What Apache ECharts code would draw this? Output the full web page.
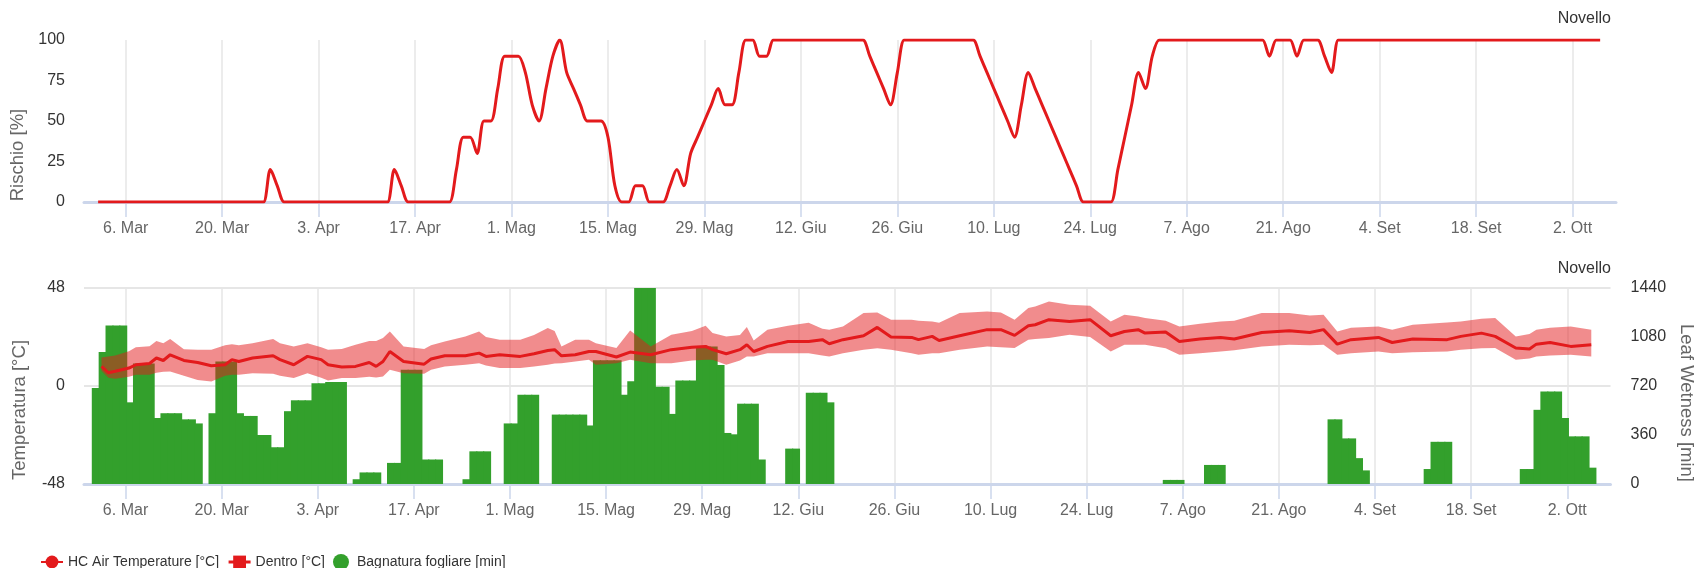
<!DOCTYPE html>
<html><head><meta charset="utf-8">
<script src="https://cdn.jsdelivr.net/npm/echarts@6/dist/echarts.min.js"></script>
<style>html,body{margin:0;padding:0;background:#fff}#c{width:1704px;height:568px}</style>
</head><body><div id="c"></div>
<script>
// ---------- DATA ----------
const firstDay = '2023-03-02';          // first daily sample
const refDay = '2023-03-06';            // reference for temperature day offsets

const tickDates = ['2023-03-06','2023-03-20','2023-04-03','2023-04-17','2023-05-01','2023-05-15','2023-05-29','2023-06-12',
  '2023-06-26','2023-07-10','2023-07-24','2023-08-07','2023-08-21','2023-09-04','2023-09-18','2023-10-02'];
const tickLabels = ['6. Mar','20. Mar','3. Apr','17. Apr','1. Mag','15. Mag','29. Mag','12. Giu',
  '26. Giu','10. Lug','24. Lug','7. Ago','21. Ago','4. Set','18. Set','2. Ott'];

// Rischio [%], one value per day from firstDay
const riskValues = [
  0,0,0,0,0,0,0,0,0,0, 0,0,0,0,0,0,0,0,0,0,
  0,0,0,0,0,20,10,0,0,0, 0,0,0,0,0,0,0,0,0,0,
  0,0,0,20,10,0,0,0,0,0, 0,0,20,40,40,30,50,50,70,90,
  90,90,80,60,50,70,90,100,80,70, 60,50,50,50,40,10,0,0,10,10,
  0,0,0,10,20,10,30,40,50,60, 70,60,60,80,100,100,90,90,100,100,
  100,100,100,100,100,100,100,100,100,100, 100,100,90,80,70,60,80,100,100,100,
  100,100,100,100,100,100,100,100,90,80, 70,60,50,40,60,80,70,60,50,40,
  30,20,10,0,0,0,0,0,20,40, 60,80,70,90,100,100,100,100,100,100,
  100,100,100,100,100,100,100,100,100,100, 90,100,100,100,90,100,100,100,90,80,
  100,100,100,100,100,100,100,100,100,100, 100,100,100,100,100,100,100,100,100,100,
  100,100,100,100,100,100,100,100,100,100, 100,100,100,100,100,100,100,100,100
];

// Bagnatura fogliare [min], one value per day from firstDay
const wetnessValues = [
  705,970,1165,1165,1165,600,885,885,885,485, 520,520,520,475,475,445,0,520,900,900,
  900,520,500,500,360,360,270,270,535,615, 615,615,740,740,750,750,750,0,35,85,
  85,85,0,155,155,840,840,840,180,180, 180,0,0,0,35,240,240,240,0,0,
  445,445,655,655,655,0,0,510,510,510, 510,510,430,910,910,910,910,655,755,1440,
  1440,1440,715,715,515,760,760,760,1010,1010, 1010,875,375,365,590,590,590,180,0,0,
  0,260,260,0,670,670,670,600,0,0, 0,0,0,0,0,0,0,0,0,0,
  0,0,0,0,0,0,0,0,0,0, 0,0,0,0,0,0,0,0,0,0,
  0,0,0,0,0,0,0,0,0,0, 0,0,0,0,0,0,30,30,30,0,
  0,0,140,140,140,0,0,0,0,0, 0,0,0,0,0,0,0,0,0,0,
  475,475,335,335,190,100,0,0,0,0, 0,0,0,0,110,310,310,310,0,0,
  0,0,0,0,0,0,0,0,110,110, 545,680,680,680,485,350,350,350,120
];

// Temperature samples: day offset from refDay, mean, band max, band min [°C]
const tempDayOffsets = [-4,-3,-2,0,1,3,4,5,6,8,10,12,14,15,16,18,21,22,24,26,28,29,31,33,35,36,37,38,40,43,44,46,49,51,52,54,57,59,61,62,63,65,67,68,71,73,76,79,82,84,85,87,89,90,91,93,96,99,101,102,104,107,109,111,114,115,117,118,121,125,127,129,131,132,134,137,140,143,145,147,148,151,153,156,159,161,165,169,172,174,176,178,182,184,187,192,194,197,199,202,204,205,207,210,213];
const tempMean = [9.6,6.5,7.2,8.8,10.4,11,13.7,12.5,15.3,12.5,11.5,9.9,10.4,12.9,12,13.7,14.8,12.9,10.4,14.5,12.9,10.4,9.3,9.6,11.5,9.6,12,16.9,12,10.7,13.2,14.8,14.8,16.1,14.5,15.3,14.5,15.8,17.4,17.8,14.8,15.3,16.9,16.9,14.2,16.6,15.3,17.8,19,19.4,17.8,15.8,17.8,20.2,16.9,19.4,21.8,21.8,22.7,20.7,22.7,24.6,28.7,24,23.8,22.7,24.3,22.3,24.6,27.6,27.6,24.8,29.5,30,32.5,31.6,32.5,24.6,26.7,27.6,25.9,26.5,21.8,23,23.8,23,26.2,27.1,26.2,27.6,20.5,22.7,23.8,21.3,23,22.7,24.3,25.9,24.3,18.6,18.1,20.5,21.3,19.4,20.2];
const tempMax = [14,14.5,15,17,19,19.5,22,21,23,18,17.8,17.8,20,20.5,20,21,23,21,19.4,21,19,17.8,18.1,20.2,22,22,23.5,26.7,19.4,18.1,20,21.8,24.3,26.7,24,22.7,22.7,25,28.4,27,19.4,22.7,22.7,21,18.6,27.2,19.4,25.1,27,29.5,25.9,24.3,25,28.9,22.3,27.6,29.5,31,28,27.6,29.2,35.7,36,32.5,32.5,32,31.6,31,35.7,36.5,36,32.5,38.2,39,41.4,39.8,39.3,31.6,34.9,34,33.3,32,29.2,30.5,31.6,32,35.7,35.7,34.5,34.9,26.7,28.5,29.2,27.6,30,31.1,31.6,33,33.3,24.3,25.5,27.6,28.5,29.2,27.6];
const tempMin = [7.5,4,3.5,4.5,5.5,5.5,6.5,7,7.1,5,3,2.2,5,5.5,5.5,6.3,6,5,3.9,6.3,4,2.7,3.9,3.9,4.5,4.2,4.7,8,6.3,6,8,9.6,10.4,11.2,10,8.8,8.8,9.5,10.4,11,11.2,12,12.9,10.4,11.2,12.9,11.2,11.2,12.5,12.9,12.9,10.4,12.5,14.5,14.5,16.1,16.1,16.1,15,14.5,16.1,17.8,18.5,17.8,16,15.3,16.1,16.1,17.8,19.4,19,18.6,22.7,23,23.5,25.1,24,16.9,20.2,20.2,20.2,18.5,15.3,16,16.9,17.5,19.4,20.2,20,20.2,15.3,16,16.9,16.1,16.5,16.9,17.8,18.5,18.6,12.9,13.5,14.5,15,15.3,14.5];

// ---------- BUILD ----------
const DAY = 86400000, HOUR = 3600000;
const t0 = Date.parse(firstDay + 'T00:00:00Z');
const tRef = Date.parse(refDay + 'T00:00:00Z');
const tickTimes = tickDates.map(s => Date.parse(s + 'T00:00:00Z'));
const axisMin = tRef - 6.05 * DAY;
const axisMax = tRef + 216.3 * DAY;
const BAR_SHIFT = -8 * HOUR;
const TEMP_SHIFT = 12 * HOUR;

const riskData = riskValues.map((v, i) => [t0 + i * DAY, v]);
const wetData = wetnessValues.map((v, i) => [t0 + i * DAY + BAR_SHIFT, v]);
const tT = tempDayOffsets.map(d => tRef + d * DAY + TEMP_SHIFT);
const meanData = tempMean.map((v, i) => [tT[i], v]);
const maxData = tempMax.map((v, i) => [tT[i], v]);
const bandData = tT.map((t, i) => [t, tempMin[i], tempMax[i]]);

const FONT = '"Liberation Sans", Arial, Helvetica, sans-serif';
const RED = '#e31a1c', GREEN = '#33a02c', BAND = 'rgba(227,26,28,0.5)';

function xAxisFor(gi) {
  return {
    type: 'value', gridIndex: gi, min: axisMin, max: axisMax, scale: true,
    axisLine: { show: true, onZero: false, lineStyle: { color: '#ccd6eb', width: 3 } },
    axisTick: { show: true, customValues: tickTimes, length: 15, lineStyle: { color: '#ccd6eb', width: 1.5 } },
    axisLabel: {
      customValues: tickTimes, color: '#666', fontSize: 16, margin: 19, fontFamily: FONT,
      formatter: function (v) {
        for (let i = 0; i < tickTimes.length; i++) if (Math.abs(tickTimes[i] - v) < DAY / 2) return tickLabels[i];
        return '';
      }
    },
    splitLine: { show: true, lineStyle: { color: '#e6e6e6', width: 1.5 } }
  };
}

const chart = echarts.init(document.getElementById('c'), null, { renderer: 'canvas' });
chart.setOption({
  animation: false,
  textStyle: { fontFamily: FONT },
  title: [
    { text: 'Novello', right: 88, top: 6, textStyle: { fontSize: 16, fontWeight: 'normal', color: '#333', fontFamily: FONT } },
    { text: 'Novello', right: 88, top: 256, textStyle: { fontSize: 16, fontWeight: 'normal', color: '#333', fontFamily: FONT } }
  ],
  legend: {
    left: 35, top: 549, itemWidth: 22, itemHeight: 16, itemGap: 8,
    textStyle: { color: '#333', fontSize: 14, fontFamily: FONT },
    data: [
      { name: 'HC Air Temperature [°C]' },
      { name: 'Dentro [°C]', lineStyle: { opacity: 1, color: RED, width: 3 }, itemStyle: { color: RED, opacity: 1 } },
      { name: 'Bagnatura fogliare [min]', icon: 'circle' }
    ]
  },
  grid: [
    { left: 84, right: 88, top: 40, height: 162 },
    { left: 84, right: 88, top: 288, height: 196 }
  ],
  xAxis: [xAxisFor(0), xAxisFor(1)],
  yAxis: [
    {
      gridIndex: 0, type: 'value', min: 0, max: 100, interval: 25,
      name: 'Rischio [%]', nameLocation: 'middle', nameGap: 57, nameRotate: 90,
      nameTextStyle: { color: '#666', fontSize: 18.5, fontFamily: FONT, padding: [0, 68, 0, 0] },
      axisLabel: { color: '#333', fontSize: 16, margin: 19, fontFamily: FONT },
      axisLine: { show: false }, axisTick: { show: false }, splitLine: { show: false }
    },
    {
      gridIndex: 1, type: 'value', min: -48, max: 48, interval: 48,
      name: 'Temperatura [°C]', nameLocation: 'middle', nameGap: 55, nameRotate: 90,
      nameTextStyle: { color: '#666', fontSize: 18.5, fontFamily: FONT, padding: [0, 48, 0, 0] },
      axisLabel: { color: '#333', fontSize: 16, margin: 19, fontFamily: FONT },
      axisLine: { show: false }, axisTick: { show: false },
      splitLine: { show: true, lineStyle: { color: '#e6e6e6', width: 2 } }
    },
    {
      gridIndex: 1, type: 'value', position: 'right', min: 0, max: 1440, interval: 360,
      name: 'Leaf Wetness [min]', nameLocation: 'middle', nameGap: 62, nameRotate: -90,
      nameTextStyle: { color: '#666', fontSize: 18.5, fontFamily: FONT, padding: [0, 0, 0, 34] },
      axisLabel: { color: '#333', fontSize: 16, margin: 20, fontFamily: FONT, formatter: v => String(v) },
      axisLine: { show: false }, axisTick: { show: false }, splitLine: { show: false }
    }
  ],
  series: [
    {
      name: 'Rischio', type: 'line', xAxisIndex: 0, yAxisIndex: 0, data: riskData,
      smooth: 0.3, symbol: 'none', showSymbol: false,
      lineStyle: { color: RED, width: 3 }, itemStyle: { color: RED }, z: 3
    },
    {
      name: 'Bagnatura fogliare [min]', type: 'bar', xAxisIndex: 1, yAxisIndex: 2, data: wetData,
      barWidth: 8, itemStyle: { color: GREEN }, z: 1
    },
    {
      // upper edge of the range (invisible line, provides the legend entry)
      name: 'Dentro [°C]', type: 'line', xAxisIndex: 1, yAxisIndex: 1, data: maxData,
      symbol: 'rect', showSymbol: false, lineStyle: { opacity: 0, color: RED, width: 3 },
      itemStyle: { color: RED }, z: 2
    },
    {
      // min-max range band
      name: 'Dentro [°C]', type: 'custom', xAxisIndex: 1, yAxisIndex: 1, data: bandData,
      encode: { x: 0, y: [1, 2] }, itemStyle: { color: RED }, z: 2, silent: true,
      renderItem: function (params, api) {
        if (params.dataIndex !== 0) return null;
        const pts = [];
        for (let i = 0; i < bandData.length; i++) pts.push(api.coord([bandData[i][0], bandData[i][2]]));
        for (let i = bandData.length - 1; i >= 0; i--) pts.push(api.coord([bandData[i][0], bandData[i][1]]));
        return { type: 'polygon', shape: { points: pts }, style: { fill: BAND } };
      }
    },
    {
      name: 'HC Air Temperature [°C]', type: 'line', xAxisIndex: 1, yAxisIndex: 1, data: meanData,
      symbol: 'circle', showSymbol: false, lineStyle: { color: RED, width: 3 }, itemStyle: { color: RED }, z: 3
    }
  ]
});
</script>
</body></html>
